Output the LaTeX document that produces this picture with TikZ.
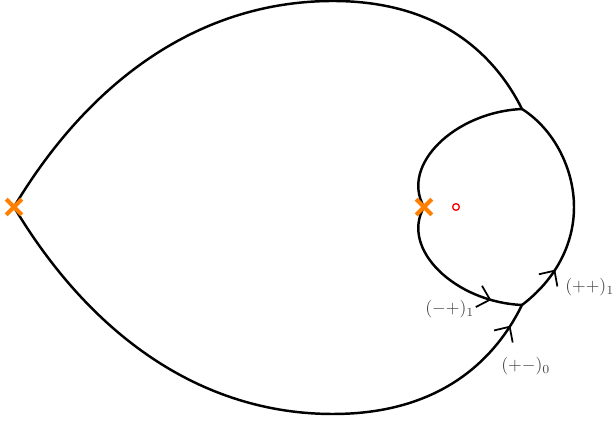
\documentclass[tikz,border=0pt]{standalone}
\usetikzlibrary{decorations.markings,shapes.misc}
\definecolor{xorange}{RGB}{255,128,0}
\tikzset{
  curve/.style={line width=1.4pt, black},
  arrowmark/.style={postaction={decorate}, decoration={markings,
      mark=at position #1 with {\draw[line width=1pt, line join=miter] (-6.6pt,6.3pt) -- (0,0) -- (-6.6pt,-6.3pt);}}},
  lbl/.style={text=black!72, anchor=west, inner sep=0pt},
  xmark/.style={cross out, draw=xorange, line width=2.4pt, minimum size=6.5pt, inner sep=0pt},
  omark/.style={circle, draw=red, line width=0.75pt, minimum size=3.8pt, inner sep=0pt}
}
\begin{document}
\begin{tikzpicture}[x=0.02cm, y=-0.02cm]
\useasboundingbox (0,0) rectangle (613,421);
\coordinate (L) at (14,207);
\coordinate (T) at (333,1);
\coordinate (B) at (333,414);
\coordinate (J1) at (522,109);
\coordinate (J2) at (522,305);
\coordinate (C) at (424,207);
\coordinate (R) at (574,207);
\draw[curve] (L) .. controls (90,80) and (200,1) .. (T) .. controls (440,1) and (495,55) .. (J1);
\draw[curve, arrowmark=-0.5cm] (L) .. controls (90,334) and (200,414) .. (B) .. controls (440,414) and (495,360) .. (J2);
\draw[curve] (J1) .. controls (455,112) and (400,165) .. (C);
\draw[curve, arrowmark=-0.65cm] (C) .. controls (400,249) and (455,302) .. (J2);
\draw[curve] (J1) .. controls (555,130) and (574,170) .. (R);
\draw[curve, arrowmark=0.95cm] (J2) .. controls (555,280) and (574,245) .. (R);
\node[xmark] (x1) at (L) {};
\node[xmark] (x2) at (C) {};
\node[omark] (o1) at (456,207) {};
\node[lbl] (l1) at (565,287) {$(++)_1$};
\node[lbl] (l2) at (425,309) {$(-+)_1$};
\node[lbl] (l3) at (501,366) {$(+-)_0$};
\end{tikzpicture}
\end{document}
